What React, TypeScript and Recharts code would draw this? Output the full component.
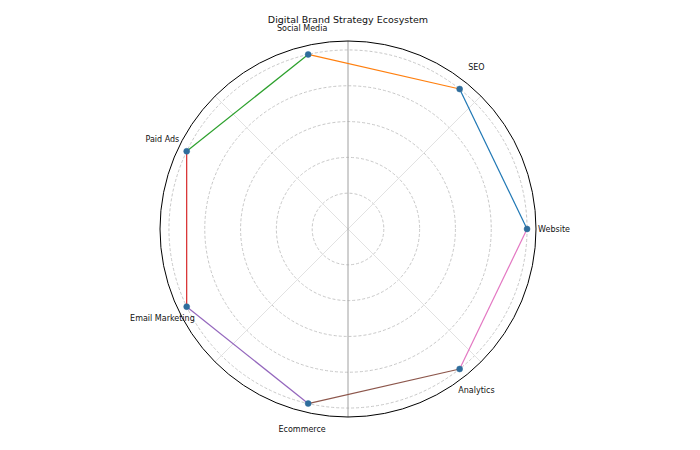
import { RadarChart, Radar, PolarGrid, PolarAngleAxis, PolarRadiusAxis } from 'recharts'

// listed clockwise from the right-hand side (Recharts lays angles clockwise)
const channels = ['Website', 'Analytics', 'Ecommerce', 'Email Marketing', 'Paid Ads', 'Social Media', 'SEO']
const strength = [1, 1, 1, 1, 1, 1, 1]
const radiusTicks = [0.2, 0.4, 0.6, 0.8, 1.0]
// colour of the link from channel i to channel i + 1
const linkColors = ['#e377c2', '#8c564b', '#9467bd', '#d62728', '#2ca02c', '#ff7f0e', '#1f77b4']

const data = channels.map((name, i) => ({ name, value: strength[i] }))

// connect each node to the next one with its own colour
function LinkShape(props: any) {
  const pts = props.points || []
  return (
    <g>
      {pts.map((p: any, i: number) => {
        const q = pts[(i + 1) % pts.length]
        return (
          <line
            key={`link-${i}`}
            x1={p.x}
            y1={p.y}
            x2={q.x}
            y2={q.y}
            stroke={linkColors[i % linkColors.length]}
            strokeWidth={1.2}
          />
        )
      })}
    </g>
  )
}

function ChannelTick(props: any) {
  const { x, y, payload } = props
  return (
    <text x={x} y={y} textAnchor="middle" dominantBaseline="central" fontSize={8} fill="#111">
      {payload.value}
    </text>
  )
}

export default function App() {
  return (
    <div style={{ position: 'relative', width: 700, height: 450, margin: -8, fontFamily: 'DejaVu Sans' }}>
      <div
        style={{
          position: 'absolute',
          top: 14,
          left: 0,
          width: 696,
          textAlign: 'center',
          fontSize: 9.5,
          color: '#111',
          zIndex: 1,
        }}
      >
        Digital Brand Strategy Ecosystem
      </div>
      <RadarChart
        width={700}
        height={450}
        data={data}
        cx={348}
        cy={229}
        outerRadius={188}
        startAngle={0}
        endAngle={-360}
        margin={{ top: 0, right: 0, bottom: 0, left: 0 }}
      >
        <PolarRadiusAxis domain={[0, 1.05]} ticks={radiusTicks} tick={false} axisLine={false} />
        <PolarGrid gridType="circle" polarAngles={[]} stroke="#c8c8c8" strokeDasharray="3 2" />
        <PolarGrid gridType="circle" polarAngles={[45, 135, 225, 315]} polarRadius={[]} stroke="#e2e2e2" />
        <PolarGrid gridType="circle" polarAngles={[90, 270]} polarRadius={[]} stroke="#a0a0a0" />
        <PolarAngleAxis
          dataKey="name"
          axisLineType="circle"
          axisLine={{ stroke: '#000', strokeWidth: 1 }}
          tickLine={false}
          tickSize={18}
          tick={<ChannelTick />}
        />
        <Radar
          dataKey="value"
          shape={<LinkShape />}
          fill="none"
          stroke="#2a6a9a"
          dot={{ r: 3, fill: '#2f6d9c', stroke: '#2f6d9c', strokeWidth: 0.5 }}
          isAnimationActive={false}
        />
      </RadarChart>
    </div>
  )
}
